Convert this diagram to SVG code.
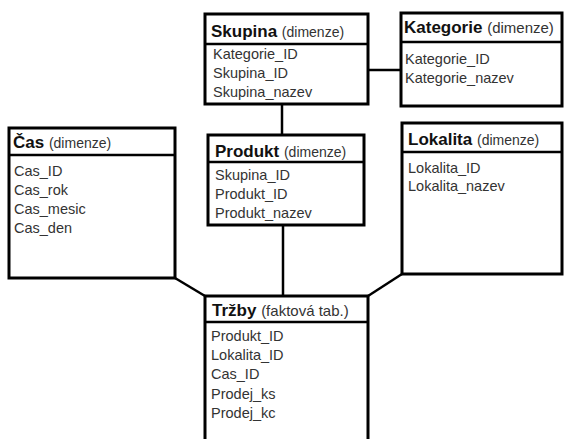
<svg xmlns="http://www.w3.org/2000/svg" width="565" height="439" viewBox="0 0 565 439">
<style>
.box{fill:#fff;stroke:#000;stroke-width:3}
.sep{stroke:#000;stroke-width:2.5}
.con{stroke:#000;stroke-width:2.5;fill:none}
.h{font-family:"Liberation Sans",Arial,sans-serif;font-size:17px;font-weight:bold;fill:#111}
.h tspan{font-weight:normal;font-size:14px;fill:#333}
.h tspan.big{font-size:15px}
.a{font-family:"Liberation Sans",Arial,sans-serif;font-size:14.5px;fill:#333}
</style>
<rect width="565" height="439" fill="#fff"/>
<g id="connectors">
<line class="con" x1="368" y1="70" x2="401" y2="70"/>
<line class="con" x1="282" y1="104" x2="282" y2="135"/>
<line class="con" x1="283" y1="225" x2="283" y2="296"/>
<line class="con" x1="175" y1="278" x2="205" y2="296"/>
<line class="con" x1="402" y1="274" x2="368" y2="296"/>
</g>
<g id="skupina">
<rect class="box" x="205" y="14" width="163" height="90"/>
<line class="sep" x1="205" y1="44" x2="368" y2="44"/>
<text class="h" x="211" y="37">Skupina <tspan>(dimenze)</tspan></text>
<text class="a" x="213" y="59">Kategorie_ID</text>
<text class="a" x="213" y="78">Skupina_ID</text>
<text class="a" x="213" y="97">Skupina_nazev</text>
</g>
<g id="kategorie">
<rect class="box" x="401" y="13" width="161" height="93"/>
<line class="sep" x1="401" y1="42" x2="562" y2="42"/>
<text class="h" x="404" y="33">Kategorie <tspan class="big">(dimenze)</tspan></text>
<text class="a" x="405" y="64">Kategorie_ID</text>
<text class="a" x="405" y="83">Kategorie_nazev</text>
</g>
<g id="cas">
<rect class="box" x="9" y="128" width="166" height="150"/>
<line class="sep" x1="9" y1="155" x2="175" y2="155"/>
<text class="h" x="13" y="148">Čas <tspan>(dimenze)</tspan></text>
<text class="a" x="14" y="176">Cas_ID</text>
<text class="a" x="14" y="195">Cas_rok</text>
<text class="a" x="14" y="214">Cas_mesic</text>
<text class="a" x="14" y="233">Cas_den</text>
</g>
<g id="produkt">
<rect class="box" x="208" y="135" width="156" height="90"/>
<line class="sep" x1="208" y1="162" x2="364" y2="162"/>
<text class="h" x="215" y="157">Produkt <tspan>(dimenze)</tspan></text>
<text class="a" x="215" y="180">Skupina_ID</text>
<text class="a" x="215" y="199">Produkt_ID</text>
<text class="a" x="215" y="218">Produkt_nazev</text>
</g>
<g id="lokalita">
<rect class="box" x="402" y="123" width="160" height="151"/>
<line class="sep" x1="402" y1="152" x2="562" y2="152"/>
<text class="h" x="408" y="145">Lokalita <tspan>(dimenze)</tspan></text>
<text class="a" x="408" y="173">Lokalita_ID</text>
<text class="a" x="408" y="191">Lokalita_nazev</text>
</g>
<g id="trzby">
<path d="M205,441 V296 H368 V441" fill="#fff" stroke="#000" stroke-width="3"/>
<line class="sep" x1="205" y1="322" x2="368" y2="322"/>
<text class="h" x="212" y="316">Tržby <tspan class="big">(faktová tab.)</tspan></text>
<text class="a" x="211" y="341">Produkt_ID</text>
<text class="a" x="211" y="360">Lokalita_ID</text>
<text class="a" x="211" y="379">Cas_ID</text>
<text class="a" x="211" y="399">Prodej_ks</text>
<text class="a" x="211" y="418">Prodej_kc</text>
</g>
</svg>
